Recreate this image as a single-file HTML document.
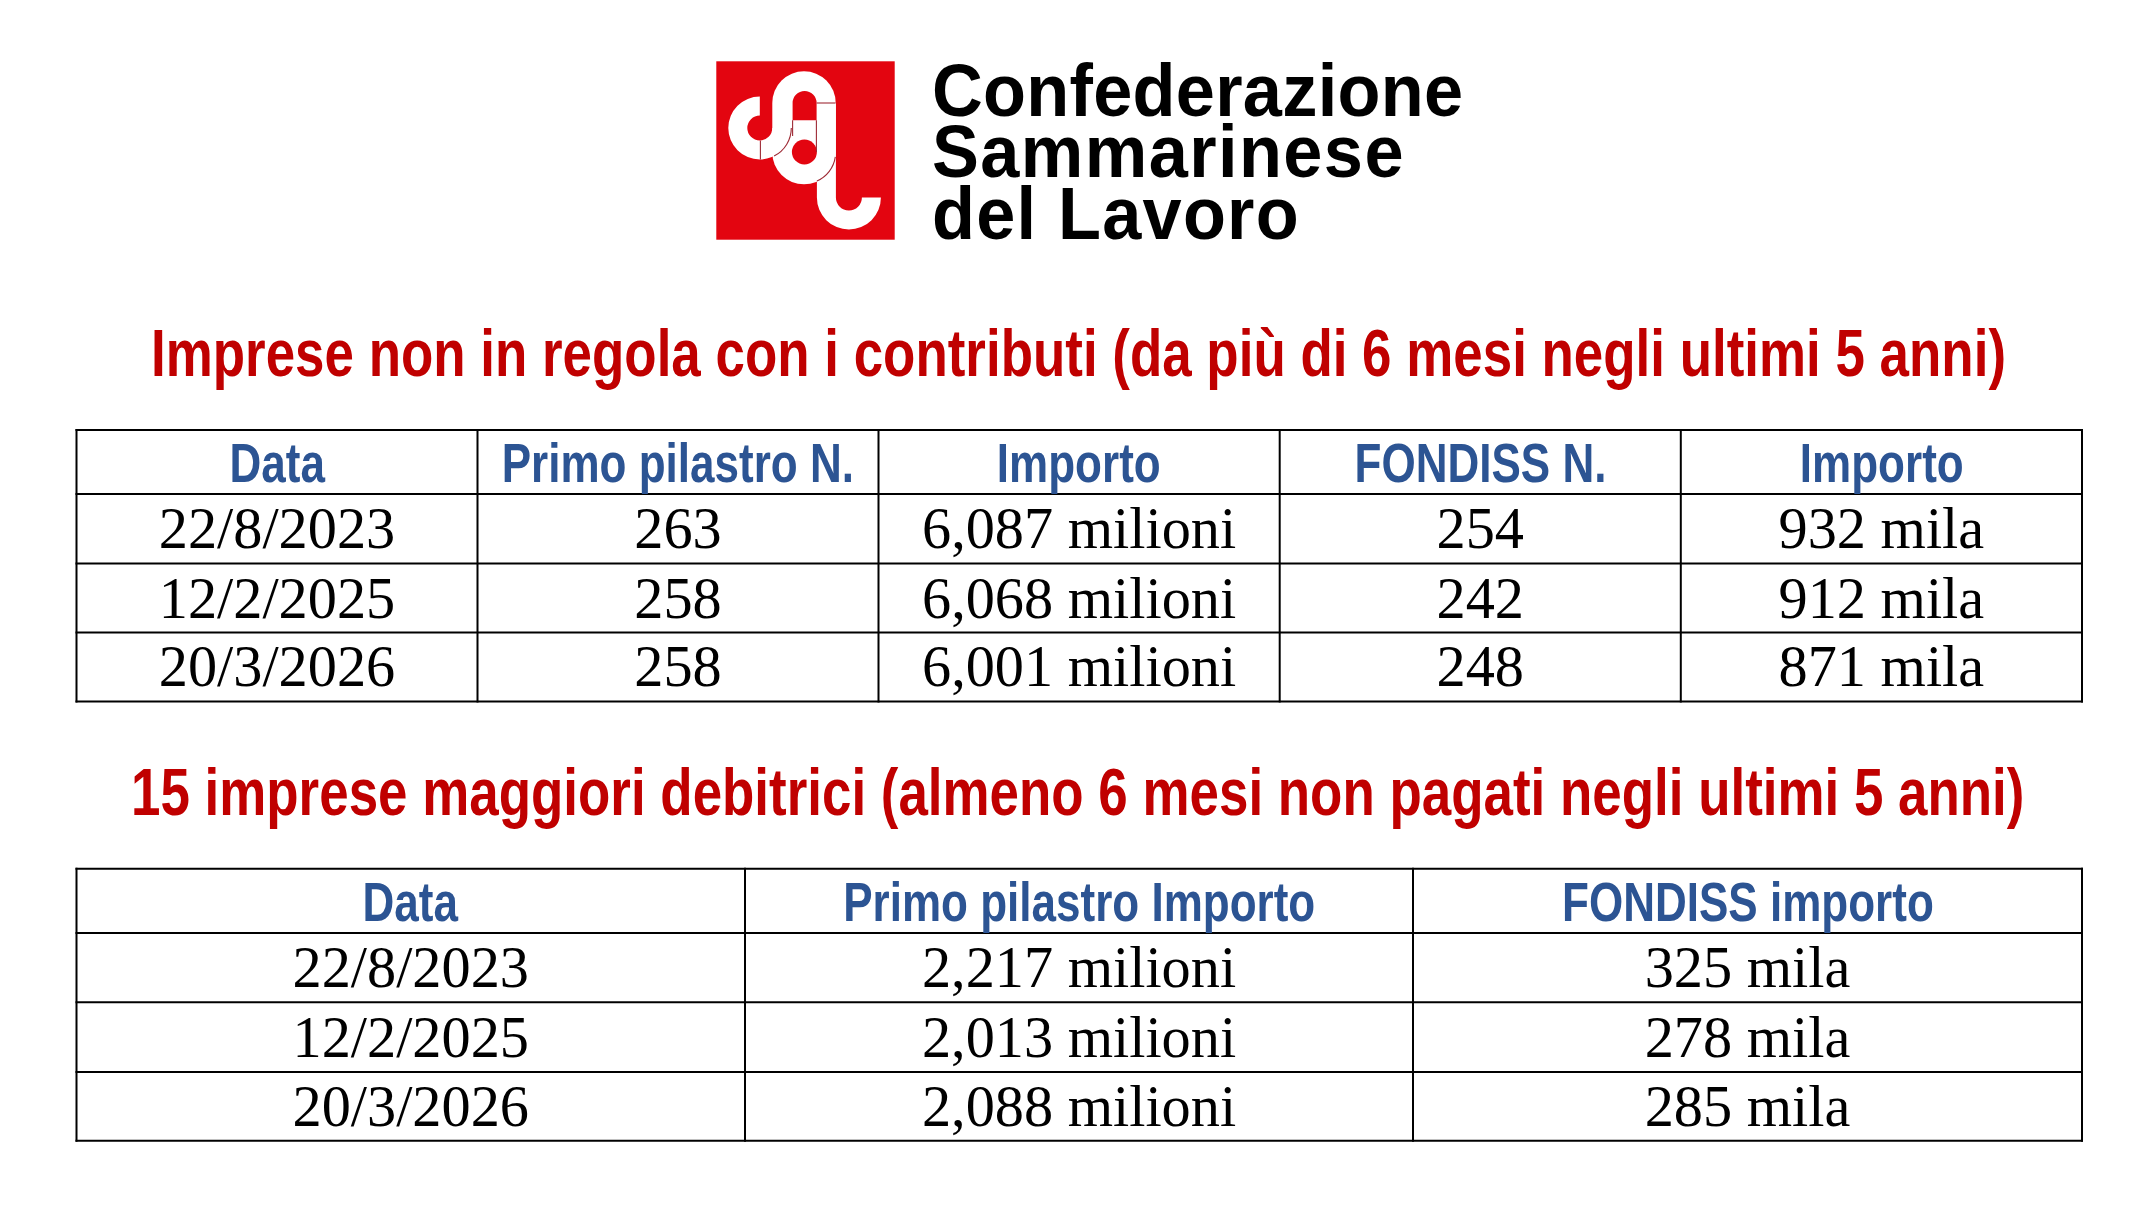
<!DOCTYPE html>
<html><head><meta charset="utf-8">
<style>
html,body{margin:0;padding:0;background:#fff;}
body{width:2156px;height:1212px;position:relative;overflow:hidden;}
.t{position:absolute;white-space:nowrap;line-height:1;}
.c{position:absolute;white-space:nowrap;line-height:1;display:flex;justify-content:center;}
.red{font-family:"Liberation Sans",sans-serif;font-weight:bold;color:#C00000;font-size:65.9px;transform-origin:0 0;transform:scaleX(0.803);}
.hd{font-family:"Liberation Sans",sans-serif;font-weight:bold;color:#2C5493;font-size:54.7px;}
.hd span{display:inline-block;transform:scaleX(0.805);transform-origin:50% 0;}
.dt{font-family:"Liberation Serif",serif;color:#000;font-size:58.3px;}
.logo{font-family:"Liberation Sans",sans-serif;font-weight:bold;color:#000;font-size:74px;transform-origin:0 0;transform:scaleX(0.95);}
</style></head><body>
<svg style="position:absolute;left:700px;top:50px" width="200" height="200" viewBox="700 50 200 200">
<rect x="716.3" y="61.3" width="178.4" height="178.4" fill="#E30510"/>
<g fill="#fff">
<path d="M791.3,128 A31.5,31.5 0 1 1 759.8,96.5 L759.8,115.5 A12.5,12.5 0 1 0 772.3,128 Z"/>
<path d="M772.3,103 A31.7,31.7 0 0 1 835.7,103 L835.7,152.6 A31.7,31.7 0 0 1 772.3,152.6 Z"/>
<path d="M816.9,103 L835.9,103 L835.9,197.5 A13,13 0 0 0 861.9,197.5 L880.9,197.5 A32,32 0 0 1 816.9,197.5 Z"/>
</g>
<g fill="#E30510">
<path d="M792.6,103 A12,12 0 0 1 816.6,103 L816.6,120.3 L792.6,120.3 Z"/>
<circle cx="804.4" cy="152" r="12.5"/>
</g>
<g stroke="#9E2A35" stroke-width="1.1" fill="none">
<line x1="760.4" y1="140.5" x2="760.4" y2="159.5"/>
<path d="M791.3,128 A31.5,31.5 0 0 1 774.10,156.07"/>
<line x1="792.6" y1="120.3" x2="792.6" y2="136"/>
<line x1="816.4" y1="120.3" x2="816.4" y2="152"/>
<line x1="816.6" y1="103" x2="835.6" y2="103"/>
<path d="M835.30,156.91 A31,31 0 0 1 816.91,181.05"/>
</g>
</svg>
<div class="t logo" id="l1" style="left:932.2px;top:53.80px;letter-spacing:0.3px">Confederazione</div>
<div class="t logo" id="l2" style="left:932.4px;top:114.90px;letter-spacing:1.5px">Sammarinese</div>
<div class="t logo" id="l3" style="left:932.2px;top:176.90px;letter-spacing:1.3px">del Lavoro</div>
<div class="t red" id="title1" style="left:150.7px;top:320.69px">Imprese non in regola con i contributi (da più di 6 mesi negli ultimi 5 anni)</div>
<div class="t red" id="title2" style="left:130.9px;top:759.88px">15 imprese maggiori debitrici (almeno 6 mesi non pagati negli ultimi 5 anni)</div>
<svg class="grid" width="2156" height="1212" style="position:absolute;left:0;top:0"><g stroke="#000" stroke-width="2" fill="none"><line x1="76.5" y1="429" x2="76.5" y2="702.6"/><line x1="477.5" y1="429" x2="477.5" y2="702.6"/><line x1="878.5" y1="429" x2="878.5" y2="702.6"/><line x1="1279.7" y1="429" x2="1279.7" y2="702.6"/><line x1="1680.8" y1="429" x2="1680.8" y2="702.6"/><line x1="2082" y1="429" x2="2082" y2="702.6"/><line x1="75.5" y1="430" x2="2083" y2="430"/><line x1="75.5" y1="494" x2="2083" y2="494"/><line x1="75.5" y1="563.5" x2="2083" y2="563.5"/><line x1="75.5" y1="632.6" x2="2083" y2="632.6"/><line x1="75.5" y1="701.6" x2="2083" y2="701.6"/></g></svg>
<div class="c hd" style="left:76.5px;width:401.0px;top:435.56px"><span>Data</span></div>
<div class="c hd" style="left:477.5px;width:401.0px;top:435.56px"><span>Primo pilastro N.</span></div>
<div class="c hd" style="left:878.5px;width:401.20000000000005px;top:435.56px"><span>Importo</span></div>
<div class="c hd" style="left:1279.7px;width:401.0999999999999px;top:435.56px"><span>FONDISS N.</span></div>
<div class="c hd" style="left:1680.8px;width:401.20000000000005px;top:435.56px"><span>Importo</span></div>
<div class="c dt" style="left:76.5px;width:401.0px;top:499.84px">22/8/2023</div>
<div class="c dt" style="left:477.5px;width:401.0px;top:499.84px">263</div>
<div class="c dt" style="left:878.5px;width:401.20000000000005px;top:499.84px">6,087 milioni</div>
<div class="c dt" style="left:1279.7px;width:401.0999999999999px;top:499.84px">254</div>
<div class="c dt" style="left:1680.8px;width:401.20000000000005px;top:499.84px">932 mila</div>
<div class="c dt" style="left:76.5px;width:401.0px;top:569.65px">12/2/2025</div>
<div class="c dt" style="left:477.5px;width:401.0px;top:569.65px">258</div>
<div class="c dt" style="left:878.5px;width:401.20000000000005px;top:569.65px">6,068 milioni</div>
<div class="c dt" style="left:1279.7px;width:401.0999999999999px;top:569.65px">242</div>
<div class="c dt" style="left:1680.8px;width:401.20000000000005px;top:569.65px">912 mila</div>
<div class="c dt" style="left:76.5px;width:401.0px;top:638.45px">20/3/2026</div>
<div class="c dt" style="left:477.5px;width:401.0px;top:638.45px">258</div>
<div class="c dt" style="left:878.5px;width:401.20000000000005px;top:638.45px">6,001 milioni</div>
<div class="c dt" style="left:1279.7px;width:401.0999999999999px;top:638.45px">248</div>
<div class="c dt" style="left:1680.8px;width:401.20000000000005px;top:638.45px">871 mila</div>
<svg class="grid" width="2156" height="1212" style="position:absolute;left:0;top:0"><g stroke="#000" stroke-width="2" fill="none"><line x1="76.5" y1="867.7" x2="76.5" y2="1141.8"/><line x1="745" y1="867.7" x2="745" y2="1141.8"/><line x1="1413" y1="867.7" x2="1413" y2="1141.8"/><line x1="2082" y1="867.7" x2="2082" y2="1141.8"/><line x1="75.5" y1="868.7" x2="2083" y2="868.7"/><line x1="75.5" y1="933" x2="2083" y2="933"/><line x1="75.5" y1="1002.3" x2="2083" y2="1002.3"/><line x1="75.5" y1="1072" x2="2083" y2="1072"/><line x1="75.5" y1="1140.8" x2="2083" y2="1140.8"/></g></svg>
<div class="c hd" style="left:76.5px;width:668.5px;top:874.61px"><span>Data</span></div>
<div class="c hd" style="left:745px;width:668px;top:874.61px"><span>Primo pilastro Importo</span></div>
<div class="c hd" style="left:1413px;width:669px;top:874.61px"><span>FONDISS importo</span></div>
<div class="c dt" style="left:76.5px;width:668.5px;top:939.25px">22/8/2023</div>
<div class="c dt" style="left:745px;width:668px;top:939.25px">2,217 milioni</div>
<div class="c dt" style="left:1413px;width:669px;top:939.25px">325 mila</div>
<div class="c dt" style="left:76.5px;width:668.5px;top:1008.95px">12/2/2025</div>
<div class="c dt" style="left:745px;width:668px;top:1008.95px">2,013 milioni</div>
<div class="c dt" style="left:1413px;width:669px;top:1008.95px">278 mila</div>
<div class="c dt" style="left:76.5px;width:668.5px;top:1077.74px">20/3/2026</div>
<div class="c dt" style="left:745px;width:668px;top:1077.74px">2,088 milioni</div>
<div class="c dt" style="left:1413px;width:669px;top:1077.74px">285 mila</div>
</body></html>
